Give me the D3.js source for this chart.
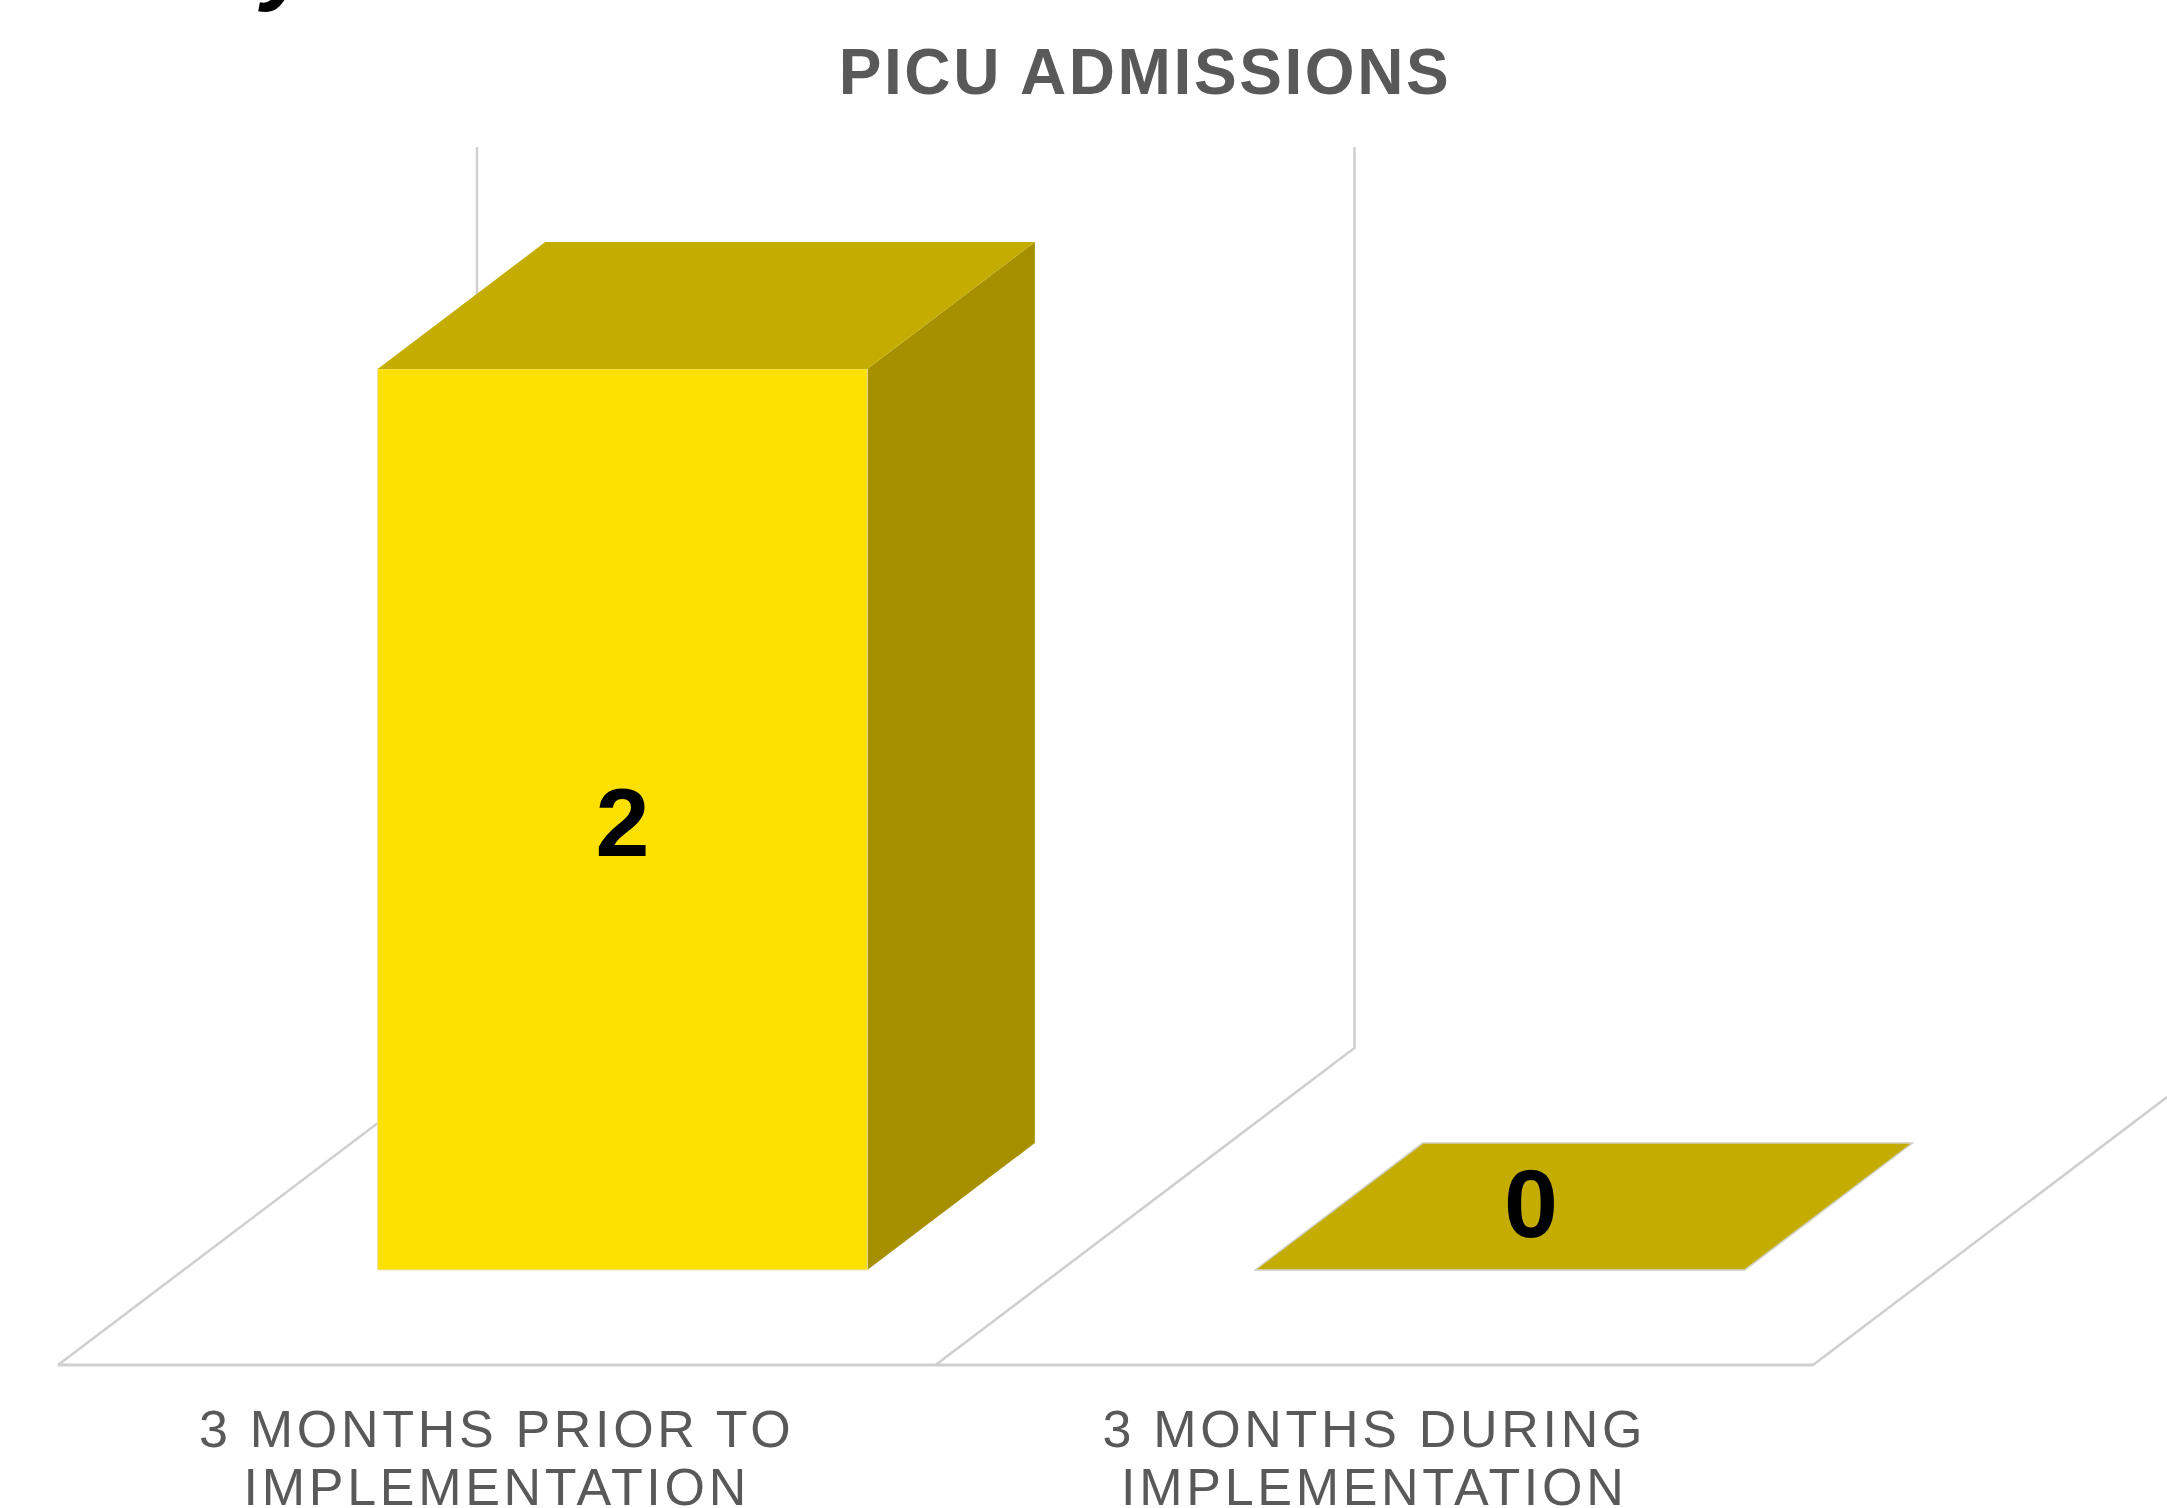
<!DOCTYPE html>
<html><head><meta charset="utf-8">
<script src="https://cdn.jsdelivr.net/npm/d3@7"></script>
<style>html,body{margin:0;padding:0;background:#fff;overflow:hidden}</style>
</head><body>
<svg id="chart" width="2167" height="1508"></svg>
<script>
const title = "PICU ADMISSIONS";
const categories = ["3 MONTHS PRIOR TO IMPLEMENTATION", "3 MONTHS DURING IMPLEMENTATION"];
const categoryLines = [["3 MONTHS PRIOR TO", "IMPLEMENTATION"], ["3 MONTHS DURING", "IMPLEMENTATION"]];
const values = [2, 0];
const valueDomain = [0, 2];

(function () {
const svg = d3.select("#chart");

// layout
const floorFrontY = 1365, floorLeft = 58, floorRight = 1813;
const depthDx = 419, depthDy = -317;   // projection of full floor depth
const barDepth0 = 0.3, barDepth1 = 0.7;
const wallHeight = 901;
const barFrac = 0.558;

const x = d3.scaleBand().domain(categories).range([floorLeft, floorRight]).paddingInner(0).paddingOuter(0);
const h = d3.scaleLinear().domain(valueDomain).range([0, wallHeight]);

const grid = "#cfcfcf";

// heading remnant at top-left (cut-off glyph)
svg.append("text").attr("x", 262).attr("y", -7)
  .attr("font-family", "Liberation Sans, Arial, sans-serif")
  .attr("font-weight", "bold").attr("font-style", "italic")
  .attr("font-size", 92).attr("fill", "#000").text("y");

// gridlines: floor diagonals + back wall verticals at category boundaries
const bounds = categories.map(c => x(c)).concat([x(categories[categories.length-1]) + x.bandwidth()]);
const gl = svg.append("g");
bounds.forEach(b => {
  gl.append("path")
    .attr("d", `M${b},${floorFrontY}L${b+depthDx},${floorFrontY+depthDy}L${b+depthDx},${floorFrontY+depthDy-wallHeight}`)
    .attr("fill", "none").attr("stroke", grid).attr("stroke-width", 2.5);
});
gl.append("line").attr("x1", floorLeft).attr("x2", floorRight)
  .attr("y1", floorFrontY).attr("y2", floorFrontY)
  .attr("stroke", grid).attr("stroke-width", 3);

// bars
const frontCol = "#fce100", topCol = "#c4ad00", sideCol = "#a69000";
const bars = svg.append("g");
values.forEach((v, i) => {
  const c = categories[i];
  const bw = x.bandwidth() * barFrac;
  const fx0 = x(c) + (x.bandwidth() - bw) / 2 + depthDx * barDepth0;
  const fx1 = fx0 + bw;
  const fyB = floorFrontY + depthDy * barDepth0;
  const fyT = fyB - h(v);
  const ddx = depthDx * (barDepth1 - barDepth0), ddy = depthDy * (barDepth1 - barDepth0);
  const g = bars.append("g");
  if (h(v) > 0) {
    g.append("path").attr("d", `M${fx1},${fyT}L${fx1+ddx},${fyT+ddy}L${fx1+ddx},${fyB+ddy}L${fx1},${fyB}Z`)
      .attr("fill", sideCol);
    g.append("path").attr("d", `M${fx0},${fyT}L${fx1},${fyT}L${fx1},${fyB}L${fx0},${fyB}Z`)
      .attr("fill", frontCol).attr("stroke", "#e8e0a0").attr("stroke-width", 1);
  }
  g.append("path").attr("d", `M${fx0},${fyT}L${fx1},${fyT}L${fx1+ddx},${fyT+ddy}L${fx0+ddx},${fyT+ddy}Z`)
    .attr("fill", topCol).attr("stroke", h(v) > 0 ? "none" : "#d0d0c0").attr("stroke-width", 1.5);

  let lx, ly;
  if (h(v) > 0) { lx = (fx0 + fx1) / 2; ly = (fyT + fyB) / 2 + 2; }
  else { lx = (fx0 + fx1) / 2 + ddx * 0.185; ly = fyT + ddy / 2 - 5; }
  g.append("text").attr("x", lx).attr("y", ly + 35)
    .attr("text-anchor", "middle")
    .attr("font-family", "Liberation Sans, Arial, sans-serif")
    .attr("font-weight", "bold").attr("font-size", 97).attr("fill", "#000")
    .text(v);
});

// title
svg.append("text").attr("x", 1145).attr("y", 94)
  .attr("text-anchor", "middle")
  .attr("font-family", "Liberation Sans, Arial, sans-serif")
  .attr("font-weight", "bold").attr("font-size", 64)
  .attr("letter-spacing", 2.6).attr("fill", "#595959")
  .text(title);

// category labels
categories.forEach((c, i) => {
  const t = svg.append("text")
    .attr("text-anchor", "middle")
    .attr("font-family", "Liberation Sans, Arial, sans-serif")
    .attr("font-size", 52).attr("letter-spacing", 3.7).attr("fill", "#595959");
  categoryLines[i].forEach((line, j) => {
    t.append("tspan").attr("x", x(c) + x.bandwidth() / 2).attr("y", 1447 + j * 58).text(line);
  });
});
})();
</script>
</body></html>
